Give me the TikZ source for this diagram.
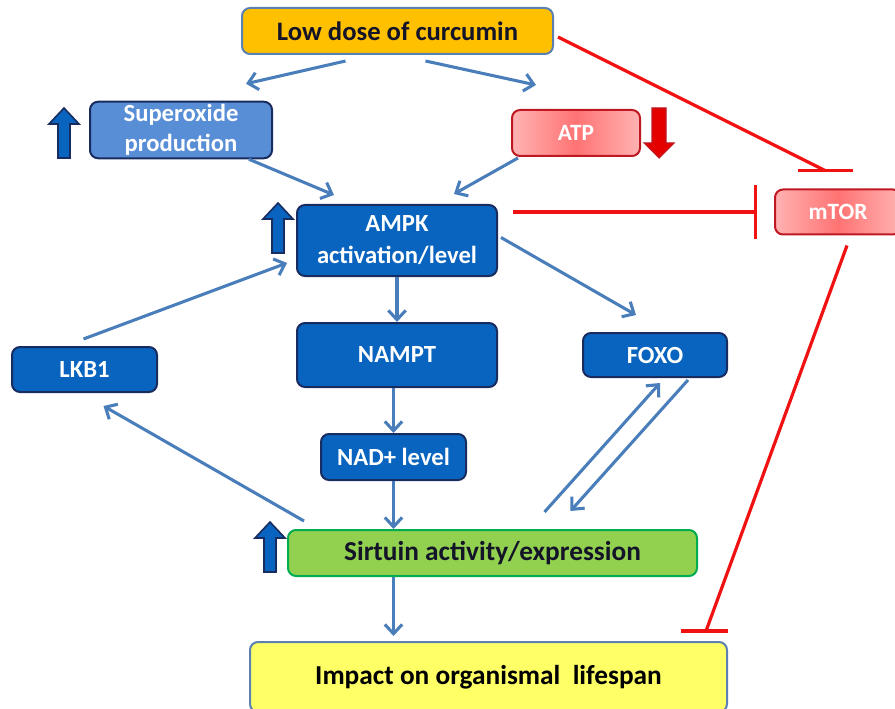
\documentclass[tikz,border=0pt]{standalone}
\usepackage{fontspec}
\setmainfont{Carlito}
\usepackage{tikz}
\usetikzlibrary{positioning,arrows.meta,calc}
\definecolor{curgold}{RGB}{255,192,0}
\definecolor{boxblue}{RGB}{8,100,190}
\definecolor{navyline}{RGB}{24,44,96}
\definecolor{supblue}{RGB}{88,142,214}
\definecolor{linkblue}{RGB}{74,126,187}
\definecolor{inhred}{RGB}{240,18,18}
\definecolor{darkred}{RGB}{190,24,34}
\definecolor{sirgreen}{RGB}{146,208,80}
\definecolor{sirborder}{RGB}{0,172,80}
\definecolor{impyellow}{RGB}{255,255,102}
\definecolor{greyblue}{RGB}{92,128,178}
\definecolor{inktext}{RGB}{20,20,40}

\begin{document}
\begin{tikzpicture}[x=0.75pt, y=-0.75pt,
    cbox/.style={rounded corners=6pt, line width=1.5pt, align=center, inner sep=2pt},
    bluebox/.style={cbox, fill=boxblue, draw=navyline, text=white,
        font=\fontsize{18.5}{24}\selectfont\bfseries},
    redbox/.style={cbox, draw=darkred, left color=red!30, right color=red!30,
        middle color=red!55, text=white, font=\fontsize{17.5}{21}\selectfont\bfseries},
    flow/.style={linkblue, line width=2.3pt, -{Straight Barb[length=7pt,width=13pt]}},
    inhib/.style={inhred, line width=2.4pt},
    upmark/.pic={\draw[fill=boxblue, draw=navyline, line width=1.2pt]
        (-6,0) -- (-6,-34) -- (-15,-34) -- (0,-50) -- (15,-34) -- (6,-34) -- (6,0) -- cycle;},
    downmark/.pic={\draw[fill=red!90!black, draw=darkred, line width=0.8pt]
        (-7,0) -- (-7,35) -- (-15,35) -- (0,50) -- (15,35) -- (7,35) -- (7,0) -- cycle;},
]
\useasboundingbox (0,0) rectangle (895,709);
\clip (0,0) rectangle (895,709);

% boxes
\node[cbox, fill=curgold, draw=greyblue, text=inktext, minimum width=233.25pt, minimum height=34.5pt,
    font=\fontsize{20}{24}\selectfont\bfseries] (cur) at (397.5,31) {Low dose of curcumin};
\node[cbox, fill=supblue, draw=navyline, text=white, minimum width=136.5pt, minimum height=42pt,
    font=\fontsize{18.5}{22.5}\selectfont\bfseries] (sup) at (181,130) {Superoxide\\production};
\node[redbox, minimum width=96pt, minimum height=34.5pt] (atp) at (576,133) {ATP};
\node[redbox, minimum width=94.5pt, minimum height=33.75pt] (mtor) at (838,212) {mTOR};
\node[bluebox, minimum width=150pt, minimum height=53.25pt] (ampk) at (397,240.5) {AMPK\\activation/level};
\node[bluebox, minimum width=108.75pt, minimum height=33.75pt] (lkb) at (84.5,369.5) {LKB1};
\node[bluebox, minimum width=150pt, minimum height=48pt] (nampt) at (397,355) {NAMPT};
\node[bluebox, minimum width=108pt, minimum height=33pt] (foxo) at (655,355) {FOXO};
\node[bluebox, minimum width=108.75pt, minimum height=34.5pt] (nad) at (393.5,457) {NAD+ level};
\node[cbox, fill=sirgreen, draw=sirborder, text=inktext, minimum width=306.75pt, minimum height=34.5pt,
    font=\fontsize{20.5}{24}\selectfont\bfseries] (sir) at (492.5,553) {Sirtuin activity/expression};
\node[cbox, fill=impyellow, draw=greyblue, text=black, minimum width=357.75pt, minimum height=52.5pt,
    font=\fontsize{20.5}{24}\selectfont\bfseries] (imp) at (488.5,677) {Impact on organismal~~lifespan};

% level marks
\pic at (64,158) {upmark};
\pic at (278,253) {upmark};
\pic at (270,572) {upmark};
\pic at (659,108) {downmark};

% activation
\draw[flow] ([shift={(-52,6)}]cur.south) -- ([shift={(-27,-17)}]sup.north east);
\draw[flow] ([shift={(28,6)}]cur.south) -- ([shift={(25,-24)}]atp.north west);
\draw[flow] ([shift={(-24,0)}]sup.south east) -- ([shift={(38,-9)}]ampk.north west);
\draw[flow] ([shift={(7,1)}]atp.south west) -- ([shift={(-44,-10)}]ampk.north east);
\draw[flow] (ampk.south) -- (nampt.north);
\draw[flow] ([shift={(3,-3)}]ampk.east) -- ([shift={(-19,-17)}]foxo.north);
\draw[flow] ([shift={(-1,-7)}]lkb.north) -- ([shift={(-9,-14)}]ampk.south west);
\draw[flow] (nampt.south -| nad.north) -- (nad.north);
\draw[flow] (nad.south) -- (nad.south |- sir.north);
\draw[flow] ([shift={(17,-8)}]sir.north west) -- ([shift={(19,13)}]lkb.south);
\draw[flow] ([shift={(52,-17)}]sir.north) -- ([shift={(5,5)}]foxo.south);
\draw[flow] ([shift={(-40,2)}]foxo.south east) -- ([shift={(78,-18)}]sir.north);
\draw[flow] (nad.south |- sir.south) -- ([shift={(0,-5)}]nad.south |- imp.north);

% inhibition
\draw[inhib] ([shift={(4,6)}]cur.east) -- ([shift={(-13,-18)}]mtor.north) coordinate (capA);
\draw[inhib] ([shift={(-27,0)}]capA) -- ++(55,0);
\draw[inhib, -{Bar[width=40pt]}] ([shift={(15,0)}]ampk.east |- mtor.west) -- ([shift={(-17,0)}]mtor.west);
\draw[inhib] ([shift={(9,10)}]mtor.south) -- ([shift={(-22,-10)}]imp.north east) coordinate (capB);
\draw[inhib] ([shift={(-25,0)}]capB) -- ++(47,0);

\end{tikzpicture}
\end{document}
